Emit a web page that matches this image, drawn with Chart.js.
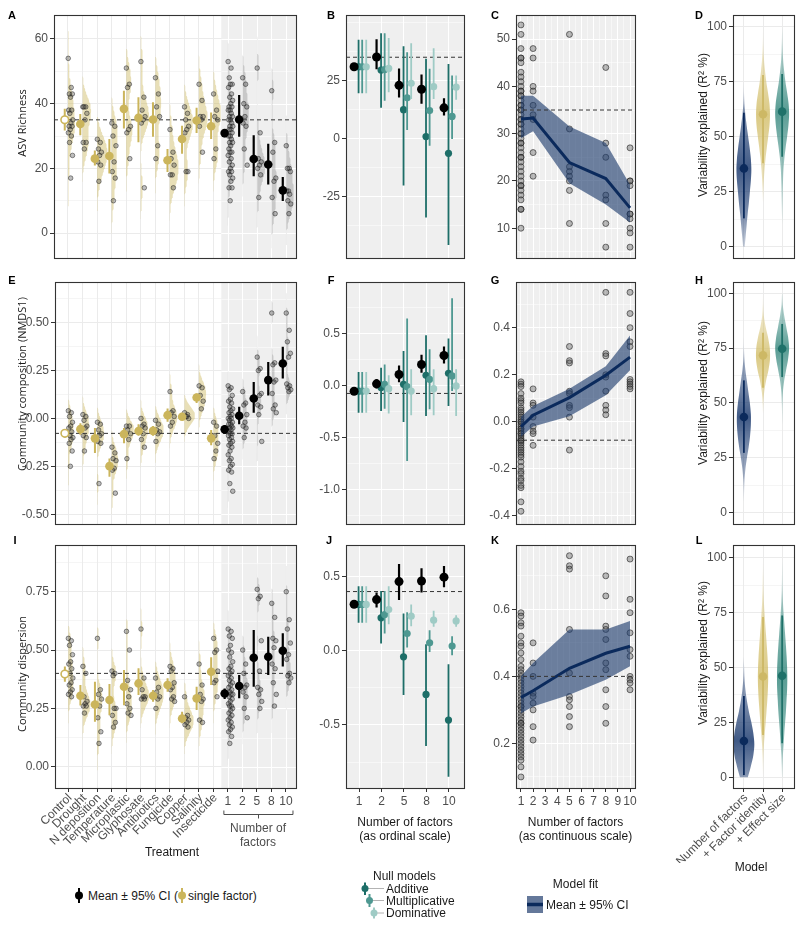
<!DOCTYPE html>
<html>
<head>
<meta charset="utf-8">
<title>Multiple stressors and soil communities</title>
<script src="https://cdn.jsdelivr.net/npm/chart.js@4.4.1/dist/chart.umd.min.js"></script>
<style>
  body { margin:0; width:800px; height:928px; position:relative; overflow:hidden; background:#fff;
         font-family:"Liberation Sans", Arial, sans-serif; color:#1a1a1a; }
  canvas { position:absolute; }
  .txt { position:absolute; white-space:nowrap; line-height:1; font-size:12px; }
</style>
</head>
<body>
<svg style="position:absolute;left:0;top:0" width="800" height="928">
  <!-- legend keys -->
  <line x1="79" y1="888" x2="79" y2="903" stroke="#000" stroke-width="2"/>
  <circle cx="79" cy="895.5" r="4" fill="#000"/>
  <line x1="182" y1="888" x2="182" y2="903" stroke="#cbb55c" stroke-width="2"/>
  <circle cx="182" cy="895.5" r="4" fill="#cbb55c"/>

  <line x1="365" y1="888.5" x2="384" y2="888.5" stroke="#a0a0a0" stroke-width="0.8"/>
  <line x1="369.5" y1="900.5" x2="384" y2="900.5" stroke="#a0a0a0" stroke-width="0.8"/>
  <line x1="374" y1="913" x2="384" y2="913" stroke="#a0a0a0" stroke-width="0.8"/>
  <line x1="365" y1="882.5" x2="365" y2="895" stroke="#1d6e68" stroke-width="2"/>
  <circle cx="365" cy="888.5" r="3.5" fill="#1d6e68"/>
  <line x1="369.5" y1="894" x2="369.5" y2="907" stroke="#4e9891" stroke-width="2"/>
  <circle cx="369.5" cy="900.5" r="3.5" fill="#4e9891"/>
  <line x1="374" y1="907.5" x2="374" y2="918.5" stroke="#9fcbc5" stroke-width="2"/>
  <circle cx="374" cy="913" r="3.5" fill="#9fcbc5"/>

  <rect x="527" y="896" width="16" height="17" fill="#64789a"/>
  <line x1="527" y1="904.5" x2="543" y2="904.5" stroke="#0b2a5c" stroke-width="3.5"/>
</svg>
<script>
// ---------- data ----------
const treatments = ['Control','Drought','N deposition','Temperature','Microplastic','Glyphosate',
                    'Antibiotics','Fungicide','Copper','Salinity','Insecticide'];
const levels = ['1','2','5','8','10'];
const levelNum = [1, 2, 5, 8, 10];
const nullModels = ['Additive','Multiplicative','Dominative'];
const r2Models = ['Number of factors','+ Factor identity','+ Effect size'];

// ASV richness: samples per single factor and per number of factors
const richSingle = [
  [54,45,43,43,42,38,38,37,35,34,33,33,32,31,30,28,24,17],
  [39,39,39,37,35,28,28,26],
  [29,28,26,25,24,22,21,16],
  [34,33,30,27,22,19,17,10],
  [51,46,45,33,32,31,23],
  [53,42,38,36,35,34,14],
  [48,43,39,36,27,23],
  [32,25,23,21,18,18,14],
  [39,37,35,33,32,31,19,19],
  [46,41,36,36,35,33,25],
  [43,38,36,35,26,23]
];
const richByLevel = [
  [53,51,48,46,46,45,43,42,41,40,39,39,38,38,37,36,36,35,35,34,33,33,32,32,31,30,30,29,28,28,27,26,25,25,24,23,22,21,20,19,19,18,17,16,14,14,10],
  [48,46,40,39,36,34,33,26,21],
  [51,31,23,22,21,20,18,11],
  [44,28,25,17,16,11,6],
  [27,20,20,19,13,13,12,10,9,6]
];
const richMean = [35.0,33.7,23.0,23.8,38.4,35.6,35.1,22.5,29.1,34.8,33.0, 30.9,35.1,22.9,21.2,13.2];
const richLo   = [31.7,30.2,20.9,18.4,32.3,28.1,29.8,18.9,24.5,30.9,29.1, 29.6,29.8,17.6,15.0,9.9];
const richHi   = [38.4,36.8,25.5,29.1,44.0,42.0,40.4,26.0,33.2,38.7,37.3, 32.2,42.7,30.2,27.6,17.3];
const richControl = 35;
// null models (Additive, Multiplicative, Dominative) x levels
const richNullMean = [[30.9,29.5,12.4,0.8,-6.4],[30.9,29.7,17.5,12.0,9.5],[30.9,30.2,23.8,22.3,22.1]];
const richNullLo   = [[19.5,13.2,-20.3,-34,-45.9],[19.5,16.3,3.7,-3.1,-0.2],[19.5,19.9,17.0,17.0,16.7]];
const richNullHi   = [[42.5,45.3,39.7,34.3,32.1],[42.5,45.3,37.1,30.0,27.1],[42.5,43.3,41.0,38.9,27.1]];
const richFit   = [33.1,33.3,23.9,20.5,14.3];
const richFitLo = [29,30.5,19.5,15,11.2];
const richFitHi = [38,38,31.5,28,19.2];

// Community composition (NMDS1)
const compSingle = [
  [0.04,0.03,0.01,-0.02,-0.04,-0.05,-0.07,-0.09,-0.1,-0.11,-0.13,-0.17,-0.25],
  [0.02,0.01,-0.01,-0.04,-0.05,-0.09,-0.1,-0.17],
  [-0.02,-0.03,-0.06,-0.08,-0.09,-0.12,-0.13,-0.34],
  [-0.15,-0.18,-0.21,-0.22,-0.26,-0.27,-0.39],
  [-0.04,-0.04,-0.06,-0.08,-0.11,-0.21],
  [0.0,-0.03,-0.04,-0.05,-0.08,-0.11,-0.15],
  [-0.01,-0.03,-0.06,-0.07,-0.08,-0.12],
  [0.14,0.04,0.03,0.01,-0.02,-0.04],
  [0.03,0.02,0.01,0.0,0.01],
  [0.17,0.16,0.12,0.09,0.05],
  [-0.02,-0.04,-0.09,-0.13,-0.17,-0.21]
];
const compByLevel = [
  [0.17,0.16,0.15,0.12,0.1,0.09,0.08,0.06,0.05,0.04,0.03,0.02,0.01,0.0,0.0,-0.01,-0.02,-0.03,-0.03,-0.04,-0.05,-0.05,-0.06,-0.07,-0.08,-0.08,-0.09,-0.1,-0.11,-0.12,-0.13,-0.14,-0.15,-0.17,-0.19,-0.21,-0.22,-0.24,-0.25,-0.27,-0.28,-0.34,-0.38],
  [0.14,0.08,0.07,0.02,-0.02,-0.04,-0.05,-0.1],
  [0.32,0.26,0.25,0.13,0.12,0.07,0.06,0.02,-0.12],
  [0.55,0.29,0.28,0.2,0.19,0.13,0.07,0.05,0.03],
  [0.55,0.46,0.4,0.34,0.32,0.18,0.17,0.16,0.15,0.14]
];
const compMean = [-0.078,-0.056,-0.104,-0.249,-0.082,-0.066,-0.065,0.017,0.009,0.109,-0.104, -0.057,0.014,0.104,0.2,0.287];
const compLo   = [-0.1,-0.085,-0.18,-0.305,-0.13,-0.09,-0.09,-0.018,-0.01,0.08,-0.14, -0.08,-0.03,0.03,0.12,0.209];
const compHi   = [-0.055,-0.025,-0.05,-0.209,-0.05,-0.03,-0.04,0.052,0.03,0.13,-0.06, -0.035,0.061,0.19,0.295,0.374];
const compControl = -0.078;
const compNullMean = [[-0.055,-0.022,0.01,0.096,0.116],[-0.055,0.01,-0.013,0.058,0.09],[-0.055,-0.032,-0.055,-0.032,-0.006]];
const compNullLo   = [[-0.263,-0.247,-0.353,-0.295,-0.199],[-0.263,-0.225,-0.729,-0.231,-0.055],[-0.263,-0.27,-0.289,-0.289,-0.295]];
const compNullHi   = [[0.128,0.17,0.33,0.482,0.45],[0.128,0.2,0.642,0.347,0.838],[0.128,0.096,0.154,0.154,0.154]];
const compFit   = [-0.021,0.028,0.103,0.198,0.275];
const compFitLo = [-0.064,-0.02,0.024,0.113,0.219];
const compFitHi = [0.021,0.067,0.141,0.236,0.367];

// Community dispersion
const dispSingle = [
  [0.55,0.54,0.52,0.48,0.45,0.44,0.42,0.4,0.38,0.36,0.35,0.33,0.32,0.31,0.3],
  [0.43,0.4,0.3,0.28,0.27,0.26,0.26,0.23],
  [0.55,0.33,0.31,0.29,0.26,0.21,0.15,0.1],
  [0.41,0.4,0.39,0.25,0.25,0.22,0.19,0.17],
  [0.58,0.5,0.37,0.33,0.3,0.27,0.25,0.23,0.22],
  [0.59,0.38,0.33,0.3,0.3,0.29,0.29],
  [0.38,0.34,0.32,0.3,0.29,0.25],
  [0.43,0.42,0.41,0.36,0.34,0.33,0.3,0.29,0.28],
  [0.3,0.22,0.21,0.2,0.19,0.18,0.17],
  [0.44,0.35,0.31,0.29,0.28,0.2,0.19],
  [0.55,0.5,0.49,0.41,0.37,0.36,0.3]
];
const dispByLevel = [
  [0.59,0.58,0.56,0.55,0.52,0.5,0.49,0.47,0.45,0.43,0.42,0.41,0.4,0.39,0.38,0.37,0.36,0.35,0.34,0.33,0.32,0.31,0.31,0.3,0.29,0.28,0.27,0.26,0.26,0.25,0.24,0.23,0.22,0.21,0.2,0.19,0.18,0.17,0.16,0.15,0.13,0.1],
  [0.5,0.44,0.4,0.35,0.34,0.32,0.3,0.25,0.21],
  [0.76,0.73,0.72,0.54,0.41,0.34,0.33,0.31,0.28,0.25],
  [0.7,0.64,0.55,0.54,0.51,0.44,0.42,0.36,0.31,0.26],
  [0.75,0.63,0.59,0.53,0.48,0.46,0.4,0.39,0.38,0.36]
];
const dispMean = [0.397,0.304,0.267,0.286,0.343,0.357,0.304,0.35,0.207,0.293,0.407, 0.314,0.346,0.467,0.471,0.497];
const dispLo   = [0.364,0.262,0.193,0.221,0.264,0.307,0.279,0.321,0.186,0.243,0.35, 0.29,0.293,0.343,0.393,0.429];
const dispHi   = [0.43,0.35,0.364,0.354,0.414,0.422,0.329,0.379,0.236,0.343,0.469, 0.335,0.393,0.586,0.557,0.572];
const dispControl = 0.4;
const dispNullMean = [[0.313,0.223,-0.04,-0.294,-0.467],[0.313,0.245,0.117,0.054,0.032],[0.313,0.279,0.234,0.207,0.202]];
const dispNullLo   = [[0.189,0.05,-0.298,-0.642,-0.849],[0.189,0.117,0.023,-0.007,-0.029],[0.189,0.18,0.166,0.162,0.162]];
const dispNullHi   = [[0.436,0.404,0.252,0.045,-0.09],[0.436,0.404,0.26,0.139,0.099],[0.436,0.436,0.313,0.27,0.24]];
const dispFit   = [0.337,0.357,0.424,0.469,0.49];
const dispFitLo = [0.29,0.31,0.345,0.39,0.43];
const dispFitHi = [0.40,0.44,0.54,0.54,0.565];

// variability explained (R2 %): posterior density at 0,5,...,100, point and interval
const r2Steps = [0,5,10,15,20,25,30,35,40,45,50,55,60,65,70,75,80,85,90,95,100];
const richR2Dens = [
  [0.8,1.8,2.8,3.8,5,6,7,7.5,7,5.8,4.3,2.8,1.5,0.5,0.1,0,0,0,0,0,0],
  [0,0,0,0,0,0.3,0.8,1.5,2.5,3.8,5.2,6.5,7,6.5,5,3.3,2,1,0.4,0.1,0],
  [0,0,0,0.2,0.4,0.6,0.9,1.3,2.2,3.5,5,6.3,7,6.5,5,3.3,2,1,0.5,0.2,0]
];
const richR2Point = [35.6,60.2,61.4], richR2Lo = [12.9,37.9,40.9], richR2Hi = [60.9,78,78.5];
const compR2Dens = [
  [0,0,0.2,0.6,1.5,3,4.8,6.2,7,7,6,4.5,3,1.5,0.5,0.1,0,0,0,0,0],
  [0,0,0,0,0,0,0,0,0,0,0.3,1.2,3,5.5,7,6.8,5,2.5,0.8,0.2,0],
  [0,0,0,0,0,0,0,0,0,0.1,0.3,0.8,2,4,6,7,6,4,2,0.6,0.1]
];
const compR2Point = [43.6,71.7,74.7], compR2Lo = [27.3,57,61.8], compR2Hi = [60.3,82,86];
const dispR2Dens = [
  [4,7,9.5,10.5,9.5,7.5,5,3,1.5,0.6,0.2,0,0,0,0,0,0,0,0,0,0],
  [0,0.2,0.5,1,1.8,2.7,3.5,4.3,4.9,5.2,5,4.5,3.8,3,2.2,1.5,0.9,0.5,0.3,0.1,0],
  [0.1,0.4,0.8,1.5,2.2,3,3.8,4.4,5,5.2,5,4.5,3.8,3,2.2,1.4,0.8,0.4,0.2,0.1,0]
];
const dispR2Point = [16.5,45.9,46.2], dispR2Lo = [1,19.2,15.5], dispR2Hi = [37,73,73.7];

// ---------- styling ----------
const FONT_FAMILY = '"Liberation Sans", Arial, sans-serif';
const TICK_FONT = {family: FONT_FAMILY, size: 12};
const TICK_COL = '#4d4d4d';
const YEL = '#cbb55c', YEL_V = 'rgba(205,185,95,0.45)', GRAY_V = 'rgba(110,110,110,0.3)';
const NAVY = '#0b2a5c';
const NULL_COL = ['#1d6e68', '#4e9891', '#9fcbc5'];
const NULL_OFF = [-0.02, 0.14, 0.32];
const R2_FILL = ['30,60,112', '212,192,110', '58,138,128'];
const R2_PT = ['#0b2a5c', '#cdb865', '#1f7169'];
const PANEL_GRAY = '#efefef';

// ---------- helpers ----------
const seg = (xs, lo, hi) => xs.flatMap((x, i) => [{x, y: lo[i]}, {x, y: hi[i]}, {x, y: null}]);
const pts = (xs, ys) => xs.map((x, i) => ({x, y: ys[i]}));
const jit = j => 0.02 + 0.33 * ((j * 0.618034) % 1);

const polyDs = (data, color, order, tension) => ({data, fill: 'shape', backgroundColor: color,
  borderColor: 'rgba(0,0,0,0)', borderWidth: 0, pointRadius: 0, tension: tension || 0, order});
const lineDs = (data, color, width, order, dash) => ({data, borderColor: color, borderWidth: width,
  borderDash: dash || [], pointRadius: 0, fill: false, spanGaps: false, order});
const dotDs = (data, fillc, r, order, edge, ew) => ({data, showLine: false, pointRadius: r,
  pointBackgroundColor: fillc, pointBorderColor: edge || fillc, pointBorderWidth: ew || 0, order});

// half violin (density of the samples, to the right of the category)
function halfViolin(vals, x0, bw, k, yMin, yMax) {
  const dens = [];
  for (let s = 0; s <= 150; s++) {
    const y = yMin + (yMax - yMin) * s / 150;
    let d = 0;
    vals.forEach(v => { const z = (y - v) / bw; d += Math.exp(-0.5 * z * z); });
    dens.push([y, d / (vals.length * bw * Math.sqrt(2 * Math.PI))]);
  }
  const peak = Math.max(...dens.map(p => p[1]));
  const keep = dens.filter(p => p[1] > peak * 0.01);
  const out = [{x: x0, y: keep[0][0]}];
  keep.forEach(([y, d]) => out.push({x: x0 + k * d, y}));
  out.push({x: x0, y: keep[keep.length - 1][0]});
  return out;
}

// full eye shape from posterior densities
function eyeShape(x0, dens, s) {
  let a = dens.findIndex(d => d > 0);
  let b = dens.length - 1 - [...dens].reverse().findIndex(d => d > 0);
  a = Math.max(a - 1, 0); b = Math.min(b + 1, dens.length - 1);
  const right = [], left = [];
  for (let i = a; i <= b; i++) right.push({x: x0 + dens[i] * s, y: r2Steps[i]});
  for (let i = b; i >= a; i--) left.push({x: x0 - dens[i] * s, y: r2Steps[i]});
  return right.concat(left);
}

function fadeFill(rgb, point, lo, hi) {
  return c => {
    const ch = c.chart;
    if (!ch.chartArea) return `rgba(${rgb},0.5)`;
    const y = ch.scales.y;
    const bot = y.getPixelForValue(y.min), top = y.getPixelForValue(y.max);
    const f = v => Math.min(1, Math.max(0, (y.getPixelForValue(v) - bot) / (top - bot)));
    const g = ch.ctx.createLinearGradient(0, bot, 0, top);
    g.addColorStop(0, `rgba(${rgb},0.12)`);
    g.addColorStop(f(lo), `rgba(${rgb},0.55)`);
    g.addColorStop(f(point), `rgba(${rgb},0.85)`);
    g.addColorStop(f(hi), `rgba(${rgb},0.55)`);
    g.addColorStop(1, `rgba(${rgb},0.12)`);
    return g;
  };
}

function tickList(majors, minors, min, max) {
  return majors.map(v => ({value: v, isMajor: true}))
    .concat(minors.map(v => ({value: v, isMajor: false})))
    .filter(t => t.value >= min && t.value <= max)
    .sort((p, q) => p.value - q.value);
}

function axis(range, ticks, gridColor, label, show) {
  return {
    type: 'linear', min: range[0], max: range[1], bounds: 'data',
    afterBuildTicks: s => { s.ticks = ticks.map(t => Object.assign({}, t)); },
    border: {display: false},
    grid: {
      color: gridColor,
      lineWidth: c => (c.tick && c.tick.isMajor) ? 1 : 0.5,
      drawTicks: show, tickLength: 4, tickWidth: 1,
      tickColor: c => (c.tick && c.tick.isMajor) ? '#333' : 'rgba(0,0,0,0)'
    },
    ticks: {display: show, autoSkip: false, maxRotation: 0, minRotation: 0, padding: 2,
      color: TICK_COL, font: TICK_FONT,
      callback: (v, i, ts) => ts[i].isMajor ? label(ts[i].value) : ''}
  };
}

function panelPlugin(o) {
  return {
    id: 'panel',
    beforeDraw(ch) {
      const {ctx, chartArea: a} = ch;
      ctx.save(); ctx.fillStyle = o.bg; ctx.fillRect(a.left, a.top, a.width, a.height); ctx.restore();
    },
    beforeDatasetsDraw(ch) {
      if (o.shadeFrom === undefined) return;
      const {ctx, chartArea: a, scales: {x, y}} = ch;
      const x0 = x.getPixelForValue(o.shadeFrom);
      ctx.save();
      ctx.fillStyle = PANEL_GRAY;
      ctx.fillRect(x0, a.top, a.right - x0, a.height);
      ctx.strokeStyle = '#fff';
      y.ticks.forEach(t => {
        const py = Math.round(y.getPixelForValue(t.value)) + 0.5;
        ctx.lineWidth = t.isMajor ? 1 : 0.5;
        ctx.beginPath(); ctx.moveTo(x0, py); ctx.lineTo(a.right, py); ctx.stroke();
      });
      x.ticks.forEach(t => {
        if (t.value < o.shadeFrom) return;
        const px = Math.round(x.getPixelForValue(t.value)) + 0.5;
        ctx.lineWidth = 1;
        ctx.beginPath(); ctx.moveTo(px, a.top); ctx.lineTo(px, a.bottom); ctx.stroke();
      });
      ctx.restore();
    },
    afterDraw(ch) {
      const {ctx, chartArea: a, scales: {x}} = ch;
      ctx.save();
      ctx.strokeStyle = '#333'; ctx.lineWidth = 1.1;
      ctx.strokeRect(Math.round(a.left) + 0.5, Math.round(a.top) + 0.5, Math.round(a.width), Math.round(a.height));
      if (o.rot) {
        ctx.font = '12px ' + FONT_FAMILY; ctx.fillStyle = TICK_COL;
        ctx.textAlign = 'right'; ctx.textBaseline = 'middle';
        o.rot.labels.forEach((s, i) => {
          ctx.save();
          ctx.translate(x.getPixelForValue(o.rot.at[i]) + 2, a.bottom + 8);
          ctx.rotate(-Math.PI / 4);
          ctx.fillText(s, 0, 0);
          ctx.restore();
        });
      }
      if (o.bracket) {
        const x0 = x.getPixelForValue(o.bracket[0]) - 4, x1 = x.getPixelForValue(o.bracket[1]) + 7;
        const y0 = a.bottom + 26.5, xm = Math.round((x0 + x1) / 2) + 0.5;
        ctx.strokeStyle = TICK_COL; ctx.lineWidth = 1;
        ctx.beginPath();
        ctx.moveTo(x0, y0 - 4); ctx.lineTo(x0, y0); ctx.lineTo(x1, y0); ctx.lineTo(x1, y0 - 4);
        ctx.moveTo(xm, y0); ctx.lineTo(xm, y0 + 4);
        ctx.stroke();
      }
      ctx.restore();
    }
  };
}

function makeChart(rect, lm, bm, xs, ys, datasets, plug) {
  const [l, t, r, b] = rect;
  const c = document.createElement('canvas');
  const w = r - l + lm + 12, h = b - t + 12 + bm;
  c.width = w; c.height = h;
  Object.assign(c.style, {left: (l - lm) + 'px', top: (t - 12) + 'px', width: w + 'px', height: h + 'px'});
  document.body.appendChild(c);
  xs.afterFit = s => { s.height = 24; };
  ys.afterFit = s => { s.width = 40; };
  return new Chart(c, {
    type: 'line',
    data: {datasets},
    options: {
      responsive: false, animation: false, events: [], devicePixelRatio: 1,
      layout: {padding: {left: lm - 40, top: 12, right: 12, bottom: bm - 24}},
      plugins: {legend: {display: false}, tooltip: {enabled: false}},
      scales: {x: xs, y: ys}
    },
    plugins: [plug]
  });
}

// ---------- panel builders ----------
const TREAT_TICKS = tickList([...Array(16).keys()], [], -1, 16);
const NULL_TICKS = tickList([1, 2, 3, 4, 5], [], 0, 6);
const FIT_TICKS = tickList([1,2,3,4,5,6,7,8,9,10], [1.5,2.5,3.5,4.5,5.5,6.5,7.5,8.5,9.5], 0.5, 10.5);
const R2_TICKS = tickList([1, 2, 3], [], 0, 4);
const R2_Y = tickList([0, 25, 50, 75, 100], [12.5, 37.5, 62.5, 87.5], -10, 110);

function treatPanel(p) {
  const raw = p.single.concat(p.byLevel);
  const ds = [];
  raw.forEach((vals, i) => ds.push(polyDs(halfViolin(vals, i, p.bw, p.k, p.y[0], p.y[1]), i < 11 ? YEL_V : GRAY_V, 10)));
  const cloud = [];
  raw.forEach((vals, i) => vals.forEach((v, j) => cloud.push({x: i + jit(j), y: v})));
  ds.push(dotDs(cloud, 'rgba(70,70,70,0.35)', 2.3, 8, 'rgba(25,25,25,0.6)', 0.8));
  ds.push(lineDs([{x: p.x[0], y: p.ctrl}, {x: p.x[1], y: p.ctrl}], '#333', 1, 5, [4, 3]));
  const tx = treatments.map((_, i) => i === 0 ? -0.22 : i - 0.15);
  const lx = levels.map((_, i) => 11 + i - 0.22);
  ds.push(lineDs(seg(tx, p.lo.slice(0, 11), p.hi.slice(0, 11)), YEL, 2, 3));
  ds.push(lineDs(seg(lx, p.lo.slice(11), p.hi.slice(11)), '#000', 2.2, 3));
  ds.push(dotDs(pts(tx.slice(1), p.mean.slice(1, 11)), YEL, 4.3, 1));
  ds.push(dotDs(pts([tx[0]], [p.mean[0]]), '#fff', 3.8, 1, YEL, 1.6));
  ds.push(dotDs(pts(lx, p.mean.slice(11)), '#000', 4.3, 1));
  const xs = axis(p.x, TREAT_TICKS, '#ebebeb', v => v >= 11 ? levels[v - 11] : '', p.showX);
  const ys = axis(p.y, tickList(p.majors, p.minors, p.y[0], p.y[1]), '#ebebeb', p.fmt, true);
  const plug = {bg: '#fff', shadeFrom: 10.55};
  if (p.showX) { plug.rot = {labels: treatments, at: treatments.map((_, i) => i)}; plug.bracket = [11, 15]; }
  makeChart(p.rect, 48, p.bm, xs, ys, ds, panelPlugin(plug));
}

function nullPanel(p) {
  const ds = [];
  const pos = levels.map((_, i) => i + 1);
  ds.push(lineDs([{x: 0.42, y: p.ctrl}, {x: 5.67, y: p.ctrl}], '#333', 1, 11, [4, 3]));
  nullModels.forEach((_, m) => {
    const xs = pos.map(v => v + NULL_OFF[m]);
    ds.push(lineDs(seg(xs, p.nl[m], p.nh[m]), NULL_COL[m], 1.8, 9 - 2 * m));
    ds.push(dotDs(pts(xs, p.nm[m]), NULL_COL[m], 3.6, 8 - 2 * m));
  });
  const bx = pos.map(v => v - 0.22);
  ds.push(lineDs(seg(bx, p.lo.slice(11), p.hi.slice(11)), '#000', 2.2, 2));
  ds.push(dotDs(pts(bx, p.mean.slice(11)), '#000', 4.5, 1));
  const xs = axis([0.42, 5.67], NULL_TICKS, '#fff', v => levels[v - 1], p.showX);
  const ys = axis(p.y, tickList(p.majors, p.minors, p.y[0], p.y[1]), '#fff', p.fmt, true);
  makeChart(p.rect, 48, p.bm, xs, ys, ds, panelPlugin({bg: PANEL_GRAY}));
}

function fitPanel(p) {
  const ds = [];
  const cloud = [];
  p.byLevel.forEach((vals, i) => vals.forEach(v => cloud.push({x: levelNum[i], y: v})));
  ds.push(dotDs(cloud, 'rgba(90,90,90,0.4)', 3, 10, 'rgba(30,30,30,0.75)', 0.8));
  ds.push(Object.assign(lineDs(pts(levelNum, p.hi), 'rgba(0,0,0,0)', 0, 6), {fill: '+1', backgroundColor: 'rgba(30,60,110,0.63)'}));
  ds.push(lineDs(pts(levelNum, p.lo), 'rgba(0,0,0,0)', 0, 6));
  ds.push(lineDs(pts(levelNum, p.fit), NAVY, 3, 5));
  ds.push(lineDs([{x: 0.59, y: p.ctrl}, {x: 10.41, y: p.ctrl}], '#333', 1, 4, [4, 3]));
  const xs = axis([0.59, 10.41], FIT_TICKS, '#fff', v => String(v), p.showX);
  const ys = axis(p.y, tickList(p.majors, p.minors, p.y[0], p.y[1]), '#fff', p.fmt, true);
  makeChart(p.rect, 48, p.bm, xs, ys, ds, panelPlugin({bg: PANEL_GRAY}));
}

function r2Panel(p) {
  const ds = [];
  r2Models.forEach((_, m) => {
    const x0 = m + 1;
    ds.push(polyDs(eyeShape(x0, p.dens[m], 0.052), fadeFill(R2_FILL[m], p.point[m], p.lo[m], p.hi[m]), 10, 0.3));
    ds.push(lineDs(seg([x0], [p.lo[m]], [p.hi[m]]), R2_PT[m], 1.8, 5));
    ds.push(dotDs(pts([x0], [p.point[m]]), R2_PT[m], 4.3, 1));
  });
  const xs = axis([0.43, 3.62], R2_TICKS, '#ebebeb', () => '', p.showX);
  const ys = axis(p.y, R2_Y, '#ebebeb', v => String(v), true);
  const plug = {bg: '#fff'};
  if (p.showX) plug.rot = {labels: r2Models, at: [1, 2, 3]};
  makeChart(p.rect, p.showX ? 70 : 48, p.bm, xs, ys, ds, panelPlugin(plug));
}

// ---------- row 1: richness ----------
treatPanel({rect: [54,15,296,258], bm: 30, x: [-0.96, 15.69], y: [-7.7, 67.4], majors: [0,20,40,60], minors: [10,30,50],
  fmt: v => String(v), single: richSingle, byLevel: richByLevel, mean: richMean, lo: richLo, hi: richHi,
  ctrl: richControl, bw: 4, k: 10, showX: false});
nullPanel({rect: [346,15,464,258], bm: 30, y: [-51.5, 53.2], majors: [-25,0,25], minors: [-37.5,-12.5,12.5,37.5,50],
  fmt: v => String(v), mean: richMean, lo: richLo, hi: richHi, nm: richNullMean, nl: richNullLo, nh: richNullHi,
  ctrl: richControl, showX: false});
fitPanel({rect: [516,15,635,258], bm: 30, y: [3.7, 55.1], majors: [10,20,30,40,50], minors: [5,15,25,35,45,55],
  fmt: v => String(v), byLevel: richByLevel, fit: richFit, lo: richFitLo, hi: richFitHi, ctrl: richControl, showX: false});
r2Panel({rect: [733,15,794,258], bm: 30, y: [-5.1, 105.3], dens: richR2Dens, point: richR2Point, lo: richR2Lo, hi: richR2Hi, showX: false});

// ---------- row 2: composition ----------
treatPanel({rect: [55,282,296,524], bm: 30, x: [-0.9, 15.69], y: [-0.551, 0.712],
  majors: [-0.5,-0.25,0,0.25,0.5], minors: [-0.375,-0.125,0.125,0.375,0.625],
  fmt: v => v.toFixed(2), single: compSingle, byLevel: compByLevel, mean: compMean, lo: compLo, hi: compHi,
  ctrl: compControl, bw: 0.045, k: 0.085, showX: false});
nullPanel({rect: [346,282,464,524], bm: 30, y: [-1.334, 0.994], majors: [-1,-0.5,0,0.5], minors: [-1.25,-0.75,-0.25,0.25,0.75],
  fmt: v => v.toFixed(1), mean: compMean, lo: compLo, hi: compHi, nm: compNullMean, nl: compNullLo, nh: compNullHi,
  ctrl: compControl, showX: false});
fitPanel({rect: [516,282,635,524], bm: 30, y: [-0.434, 0.594], majors: [-0.4,-0.2,0,0.2,0.4], minors: [-0.3,-0.1,0.1,0.3,0.5],
  fmt: v => v.toFixed(1), byLevel: compByLevel, fit: compFit, lo: compFitLo, hi: compFitHi, ctrl: compControl, showX: false});
r2Panel({rect: [733,282,794,524], bm: 30, y: [-5.1, 105.1], dens: compR2Dens, point: compR2Point, lo: compR2Lo, hi: compR2Hi, showX: false});

// ---------- row 3: dispersion ----------
treatPanel({rect: [55,545,296,788], bm: 75, x: [-0.9, 15.69], y: [-0.091, 0.95],
  majors: [0,0.25,0.5,0.75], minors: [0.125,0.375,0.625,0.875],
  fmt: v => v.toFixed(2), single: dispSingle, byLevel: dispByLevel, mean: dispMean, lo: dispLo, hi: dispHi,
  ctrl: dispControl, bw: 0.045, k: 0.09, showX: true});
nullPanel({rect: [346,545,464,788], bm: 30, y: [-0.925, 0.714], majors: [-0.5,0,0.5], minors: [-0.75,-0.25,0.25],
  fmt: v => v.toFixed(1), mean: dispMean, lo: dispLo, hi: dispHi, nm: dispNullMean, nl: dispNullLo, nh: dispNullHi,
  ctrl: dispControl, showX: true});
fitPanel({rect: [516,545,635,788], bm: 30, y: [0.067, 0.792], majors: [0.2,0.4,0.6], minors: [0.1,0.3,0.5,0.7],
  fmt: v => v.toFixed(1), byLevel: dispByLevel, fit: dispFit, lo: dispFitLo, hi: dispFitHi, ctrl: dispControl, showX: true});
r2Panel({rect: [733,545,794,788], bm: 75, y: [-4.9, 105.8], dens: dispR2Dens, point: dispR2Point, lo: dispR2Lo, hi: dispR2Hi, showX: true});

// ---------- text ----------
function label(text, x, y, css) {
  const d = document.createElement('div');
  d.className = 'txt';
  d.textContent = text;
  d.style.left = x + 'px';
  d.style.top = y + 'px';
  Object.assign(d.style, css || {});
  document.body.appendChild(d);
}
const CENTER = {transform: 'translate(-50%,-50%)'};
const LEFT_MID = {transform: 'translate(0,-50%)'};
const YTITLE_A = {fontFamily: '"Open Sans", sans-serif', fontSize: '11px', transform: 'translate(-50%,-50%) rotate(-90deg)'};
const YTITLE_D = {transform: 'translate(-50%,-50%) rotate(-90deg)'};
const LETTER = {fontWeight: 'bold', fontSize: '11px', color: '#000', transform: 'translate(-50%,0)'};

[['A',12,10],['B',331,10],['C',495,10],['D',699,10],
 ['E',12,275],['F',331,275],['G',495,275],['H',699,275],
 ['I',15,535],['J',329,535],['K',495,535],['L',699,535]].forEach(([s, x, y]) => label(s, x, y, LETTER));

label('ASV Richness', 21, 123, YTITLE_A);
label('Community composition (NMDS1)', 21, 384, YTITLE_A);
label('Community dispersion', 21, 674, YTITLE_A);
label('Variability explained (R² %)', 703, 125, YTITLE_D);
label('Variability explained (R² %)', 703, 393, YTITLE_D);
label('Variability explained (R² %)', 703, 653, YTITLE_D);

label('Number of', 258, 828, Object.assign({color: TICK_COL}, CENTER));
label('factors', 258, 842, Object.assign({color: TICK_COL}, CENTER));
label('Treatment', 172, 852, CENTER);
label('Number of factors', 405, 822, CENTER);
label('(as ordinal scale)', 405, 836, CENTER);
label('Number of factors', 575.5, 822, CENTER);
label('(as continuous scale)', 575.5, 836, CENTER);
label('Model', 751, 867, CENTER);

label('Mean ± 95% CI (', 88, 895.5, LEFT_MID);
label('single factor)', 188, 895.5, LEFT_MID);
label('Null models', 373, 876, LEFT_MID);
nullModels.forEach((s, i) => label(s, 386, [889, 900.7, 913][i], LEFT_MID));
label('Model fit', 575.5, 884, CENTER);
label('Mean ± 95% CI', 546, 904.5, LEFT_MID);
</script>
</body>
</html>
